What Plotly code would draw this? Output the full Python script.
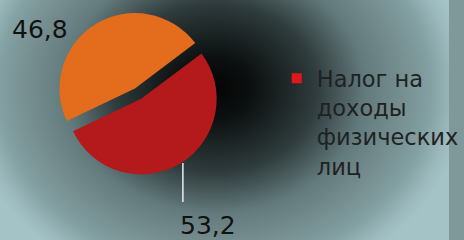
import base64
import plotly.graph_objects as go

# Data
categories = ["Налог на доходы физических лиц", "Прочие"]
values = [53.2, 46.8]
value_labels = ["53,2", "46,8"]
legend_label = "Налог на<br>доходы<br>физических<br>лиц"
colors = ["#B41A1B", "#E46C1D"]

W, H = 464, 240

def px_x(x):
    return x / W

def px_y(y):
    return 1 - y / H

svg = f"""<svg xmlns='http://www.w3.org/2000/svg' width='{W}' height='{H}' viewBox='0 0 {W} {H}' preserveAspectRatio='none'>
<defs><radialGradient id='g' gradientUnits='userSpaceOnUse' cx='0' cy='0' r='1'
 gradientTransform='translate(222,88) scale(260,210)'>
<stop offset='0' stop-color='#040505'/>
<stop offset='0.15' stop-color='#0c1010'/>
<stop offset='0.4' stop-color='#2f3b3c'/>
<stop offset='0.6' stop-color='#647b7d'/>
<stop offset='0.75' stop-color='#778f91'/>
<stop offset='0.86' stop-color='#83a0a2'/>
<stop offset='0.95' stop-color='#9cbabd'/>
<stop offset='1' stop-color='#a3c3c6'/>
</radialGradient></defs>
<rect width='{W}' height='{H}' fill='url(#g)'/></svg>"""
bg_uri = "data:image/svg+xml;base64," + base64.b64encode(svg.encode()).decode()

cx, cy, r, maxpull = 143.5, 95, 78, 0.1
half = r * (1 + maxpull)

fig = go.Figure()
fig.add_trace(go.Pie(
    labels=categories,
    values=values,
    sort=False,
    direction="clockwise",
    rotation=53,
    pull=[0.06, 0.1],
    marker=dict(colors=colors, line=dict(width=0)),
    textinfo="none",
    hoverinfo="label+value",
    showlegend=False,
    domain=dict(x=[px_x(cx - half), px_x(cx + half)],
                y=[px_y(cy + half), px_y(cy - half)]),
))
fig.add_trace(go.Scatter(
    x=[None], y=[None], mode="markers", name=legend_label,
    marker=dict(symbol="square", size=10, color="#E0181B"),
))

font_family = "DejaVu Sans"
fig.update_layout(
    width=W, height=H,
    margin=dict(l=0, r=0, t=0, b=0),
    paper_bgcolor="#7f999b",
    plot_bgcolor="rgba(0,0,0,0)",
    xaxis=dict(visible=False),
    yaxis=dict(visible=False),
    images=[dict(source=bg_uri, xref="paper", yref="paper", x=0, y=1,
                 sizex=1, sizey=1, sizing="stretch", layer="below")],
    legend=dict(x=px_x(286), y=px_y(57), xanchor="left", yanchor="top",
                bgcolor="rgba(0,0,0,0)", valign="top",
                font=dict(family=font_family, size=22.5, color="#1e2222"),
                itemwidth=30),
    annotations=[
        dict(text=value_labels[1], x=px_x(41), y=px_y(29), xref="paper", yref="paper",
             xanchor="center", yanchor="middle",
             showarrow=False, font=dict(family=font_family, size=25, color="#111")),
        dict(text=value_labels[0], x=px_x(215), y=px_y(225), xref="paper", yref="paper",
             xanchor="center", yanchor="middle",
             showarrow=False, font=dict(family=font_family, size=25, color="#111")),
    ],
    shapes=[dict(type="line", xref="paper", yref="paper",
                 x0=px_x(189), x1=px_x(189), y0=px_y(163), y1=px_y(202),
                 line=dict(color="#e6eef0", width=1.5))],
)

fig.write_html("out.html", config={"displayModeBar": False},
               post_script="document.body.style.margin='0';document.body.style.overflow='hidden';")
